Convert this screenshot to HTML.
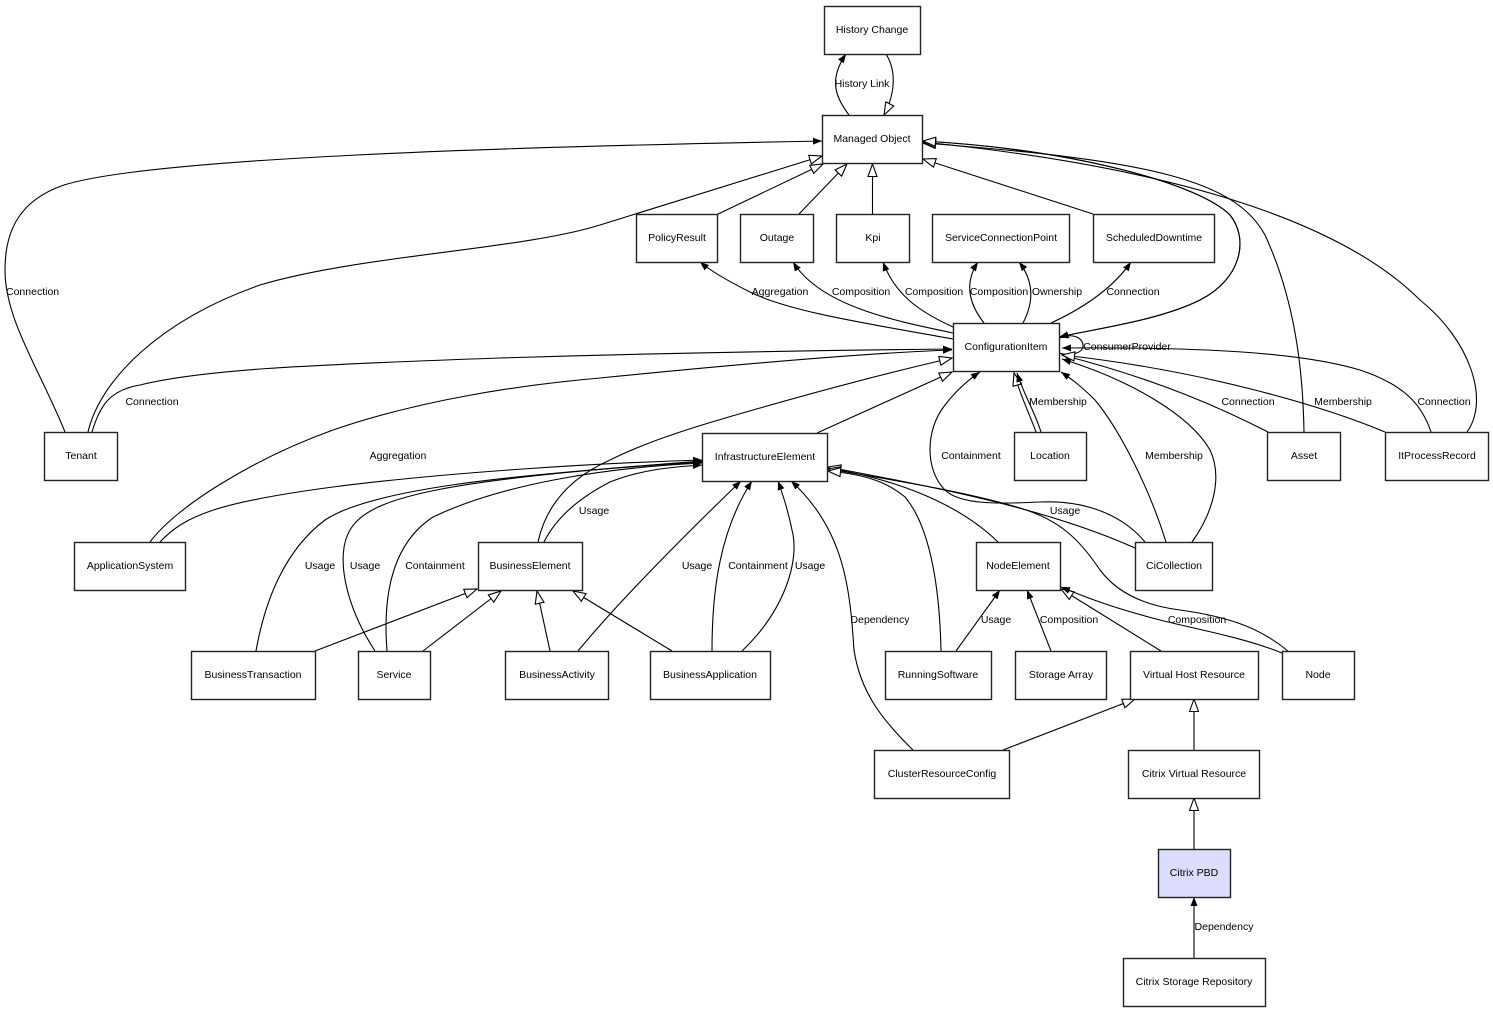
<!DOCTYPE html>
<html><head><meta charset="utf-8"><style>
html,body{margin:0;padding:0;background:#fff;}
svg{display:block;}
text{font-family:"Liberation Sans",Arial,sans-serif;font-size:10.5px;fill:#000;}
.n{fill:#fff;stroke:#222;stroke-width:1.4;}
.e{fill:none;stroke:#000;stroke-width:1.1;}
.f{marker-end:url(#af);}
.h{marker-end:url(#ah);}
</style></head><body>
<svg width="1493" height="1012" viewBox="0 0 1493 1012" xmlns="http://www.w3.org/2000/svg">
<defs>
<marker id="af" markerWidth="10" markerHeight="8" refX="9" refY="3.5" orient="auto" markerUnits="userSpaceOnUse"><path d="M0,0 L9,3.5 L0,7 z" fill="#000"/></marker>
<marker id="ah" markerWidth="15" markerHeight="12" refX="13.5" refY="5.5" orient="auto" markerUnits="userSpaceOnUse"><path d="M1,1 L13.5,5.5 L1,10 z" fill="#fff" stroke="#000" stroke-width="1.1"/></marker>
</defs>

<!-- edges -->
<path class="e f" d="M849,115 C836,98 828,80 846,54"/>
<path class="e h" d="M886,54 C896,70 896,92 884,115"/>
<path class="e f" d="M65,432 C40,370 5,320 5,270 C5,230 20,200 64,185 C150,158 500,147 822,141"/>
<path class="e h" d="M88,432 C100,380 160,320 260,285 C360,255 520,250 600,225 C680,200 760,175 822,156"/>
<path class="e h" d="M716,215 L823,164"/>
<path class="e h" d="M799,214 L847,164"/>
<path class="e h" d="M872.5,214 L872.5,164"/>
<path class="e h" d="M1093,214 L923,159"/>
<path class="e h" d="M1304,432 C1303,370 1295,300 1265,235 C1235,180 1150,160 923,143"/>
<path class="e h" d="M1467,432 C1490,400 1470,340 1420,300 C1350,230 1200,170 923,142"/>
<path class="e f" d="M923,141 C1080,150 1200,185 1230,215 C1250,240 1240,280 1200,300 C1160,320 1100,328 1059,337"/>
<path class="e h" d="M1059,337 C1100,328 1160,320 1200,300 C1240,280 1250,240 1230,215 C1200,185 1080,150 923,141"/>

<path class="e f" d="M953,339 C870,324 790,312 750,292 C730,282 712,272 700,262"/>
<path class="e f" d="M953,333 C890,320 820,305 793,262"/>
<path class="e f" d="M953,327 C920,312 895,295 883,262"/>
<path class="e f" d="M984,323 C966,300 966,280 978,262"/>
<path class="e f" d="M1023,323 C1035,300 1033,280 1019,262"/>
<path class="e f" d="M1051,323 C1090,305 1115,285 1131,262"/>

<path class="e f" d="M92,432 C100,405 110,390 140,385 C200,370 300,365 500,358 C700,352 850,350 952,349"/>
<path class="e f" d="M150,542 C175,508 250,460 333,430 C420,400 520,385 600,378 C720,366 860,353 952,350"/>
<path class="e h" d="M538,542 C545,510 565,480 610,460 C650,440 700,425 760,408 C830,388 900,370 952,358"/>
<path class="e h" d="M817,433 L952,372"/>

<path class="e f" d="M1145,542 C1120,512 1080,500 1040,502 C1000,504 960,505 945,490 C925,470 925,430 945,405 C955,392 968,380 980,372"/>
<path class="e h" d="M1036,432 C1028,410 1020,395 1014,373"/>
<path class="e f" d="M1041,432 C1034,410 1024,395 1017,373"/>
<path class="e f" d="M1166,542 C1150,490 1120,430 1095,400 C1080,385 1070,378 1061,372"/>
<path class="e f" d="M1192,542 C1215,510 1222,475 1210,450 C1190,415 1130,380 1062,359"/>
<path class="e f" d="M1059,353 C1072,357 1084,352 1083,345 C1082,337 1072,333 1060,338"/>
<path class="e f" d="M1268,432 C1225,410 1160,380 1062,355"/>
<path class="e h" d="M1385,432 C1320,405 1200,370 1062,355"/>
<path class="e f" d="M1431,432 C1422,405 1405,385 1360,370 C1300,352 1200,347 1062,348"/>

<path class="e f" d="M160,542 C185,515 220,502 333,487 C450,472 600,463 702,460"/>
<path class="e f" d="M256,651 C265,600 285,550 325,520 C370,490 500,475 702,462"/>
<path class="e f" d="M375,651 C345,605 335,555 350,530 C370,495 450,480 702,461"/>
<path class="e f" d="M387,651 C383,600 390,545 433,517 C500,485 600,468 702,463"/>
<path class="e f" d="M544,542 C555,520 575,500 610,482 C640,470 670,467 702,465"/>

<path class="e f" d="M578,651 C620,600 690,530 741,481"/>
<path class="e f" d="M712,651 C712,590 720,530 752,481"/>
<path class="e f" d="M742,651 C785,610 800,560 792,530 C788,510 783,495 778,481"/>
<path class="e f" d="M913,750 C880,718 860,690 854,650 C850,590 845,530 791,481"/>

<path class="e h" d="M550,651 L537,591"/>
<path class="e h" d="M672,651 L573,591"/>
<path class="e h" d="M315,651 L477,589"/>
<path class="e h" d="M423,651 L501,591"/>

<path class="e h" d="M998,542 C960,505 900,480 828,468"/>
<path class="e h" d="M1135,548 C1050,510 950,490 828,467"/>
<path class="e h" d="M1288,651 C1260,628 1230,617 1180,610 C1140,605 1115,590 1100,570 C1080,540 1060,520 1020,508 C960,490 880,478 828,469"/>
<path class="e h" d="M941,651 C940,600 933,530 905,497 C885,480 860,474 828,471"/>

<path class="e f" d="M956,651 L1000,590"/>
<path class="e f" d="M1051,651 L1027,590"/>
<path class="e h" d="M1161,651 L1061,589"/>
<path class="e f" d="M1282,653 C1245,638 1200,630 1160,620 C1110,607 1085,597 1061,587"/>

<path class="e h" d="M1003,750 L1135,699"/>
<path class="e h" d="M1194,750 L1194,699"/>
<path class="e h" d="M1194,849 L1194,798"/>
<path class="e f" d="M1194,958 L1194,897"/>

<!-- nodes -->
<rect class="n" x="824.5" y="6.5" width="96" height="48"/>
<rect class="n" x="822.5" y="115.5" width="100" height="48"/>
<rect class="n" x="636.5" y="214.5" width="81" height="48"/>
<rect class="n" x="740.5" y="214.5" width="73" height="48"/>
<rect class="n" x="836.5" y="214.5" width="73" height="48"/>
<rect class="n" x="932.5" y="214.5" width="137" height="48"/>
<rect class="n" x="1093.5" y="214.5" width="121" height="48"/>
<rect class="n" x="953.5" y="323.5" width="106" height="48"/>
<rect class="n" x="44.5" y="432.5" width="73" height="48"/>
<rect class="n" x="702.5" y="433.5" width="125" height="48"/>
<rect class="n" x="1014.5" y="432.5" width="72" height="48"/>
<rect class="n" x="1267.5" y="432.5" width="73" height="48"/>
<rect class="n" x="1385.5" y="432.5" width="103" height="48"/>
<rect class="n" x="74.5" y="542.5" width="111" height="48"/>
<rect class="n" x="478.5" y="542.5" width="104" height="48"/>
<rect class="n" x="976.5" y="542.5" width="84" height="48"/>
<rect class="n" x="1135.5" y="542.5" width="77" height="48"/>
<rect class="n" x="191.5" y="651.5" width="124" height="48"/>
<rect class="n" x="358.5" y="651.5" width="72" height="48"/>
<rect class="n" x="505.5" y="651.5" width="103" height="48"/>
<rect class="n" x="650.5" y="651.5" width="120" height="48"/>
<rect class="n" x="885.5" y="651.5" width="106" height="48"/>
<rect class="n" x="1015.5" y="651.5" width="91" height="48"/>
<rect class="n" x="1130.5" y="651.5" width="128" height="48"/>
<rect class="n" x="1282.5" y="651.5" width="72" height="48"/>
<rect class="n" x="874.5" y="750.5" width="135" height="48"/>
<rect class="n" x="1128.5" y="750.5" width="131" height="48"/>
<rect class="n" x="1158.5" y="849.5" width="72" height="48" style="fill:#dcdcfc"/>
<rect class="n" x="1123.5" y="958.5" width="142" height="48"/>

<!-- node labels -->
<g text-anchor="middle">
<text x="872" y="33">History Change</text>
<text x="872" y="142">Managed Object</text>
<text x="677" y="241">PolicyResult</text>
<text x="777" y="241">Outage</text>
<text x="873" y="241">Kpi</text>
<text x="1001" y="241">ServiceConnectionPoint</text>
<text x="1154" y="241">ScheduledDowntime</text>
<text x="1006" y="350">ConfigurationItem</text>
<text x="81" y="459">Tenant</text>
<text x="765" y="460">InfrastructureElement</text>
<text x="1050" y="459">Location</text>
<text x="1304" y="459">Asset</text>
<text x="1437" y="459">ItProcessRecord</text>
<text x="130" y="569">ApplicationSystem</text>
<text x="530" y="569">BusinessElement</text>
<text x="1018" y="569">NodeElement</text>
<text x="1174" y="569">CiCollection</text>
<text x="253" y="678">BusinessTransaction</text>
<text x="394" y="678">Service</text>
<text x="557" y="678">BusinessActivity</text>
<text x="710" y="678">BusinessApplication</text>
<text x="938" y="678">RunningSoftware</text>
<text x="1061" y="678">Storage Array</text>
<text x="1194" y="678">Virtual Host Resource</text>
<text x="1318" y="678">Node</text>
<text x="942" y="777">ClusterResourceConfig</text>
<text x="1194" y="777">Citrix Virtual Resource</text>
<text x="1194" y="876">Citrix PBD</text>
<text x="1194" y="985">Citrix Storage Repository</text>
</g>

<!-- edge labels -->
<g text-anchor="middle">
<text x="862" y="87">History Link</text>
<text x="780" y="295">Aggregation</text>
<text x="861" y="295">Composition</text>
<text x="934" y="295">Composition</text>
<text x="999" y="295">Composition</text>
<text x="1057" y="295">Ownership</text>
<text x="1133" y="295">Connection</text>
<text x="1127" y="350">ConsumerProvider</text>
<text x="152" y="405">Connection</text>
<text x="1058" y="405">Membership</text>
<text x="1248" y="405">Connection</text>
<text x="1343" y="405">Membership</text>
<text x="1444" y="405">Connection</text>
<text x="398" y="459">Aggregation</text>
<text x="971" y="459">Containment</text>
<text x="1174" y="459">Membership</text>
<text x="594" y="514">Usage</text>
<text x="1065" y="514">Usage</text>
<text x="320" y="569">Usage</text>
<text x="365" y="569">Usage</text>
<text x="435" y="569">Containment</text>
<text x="697" y="569">Usage</text>
<text x="758" y="569">Containment</text>
<text x="810" y="569">Usage</text>
<text x="880" y="623">Dependency</text>
<text x="996" y="623">Usage</text>
<text x="1069" y="623">Composition</text>
<text x="1197" y="623">Composition</text>
<text x="1224" y="930">Dependency</text>
</g>
<text x="6" y="295">Connection</text>
</svg>
</body></html>
